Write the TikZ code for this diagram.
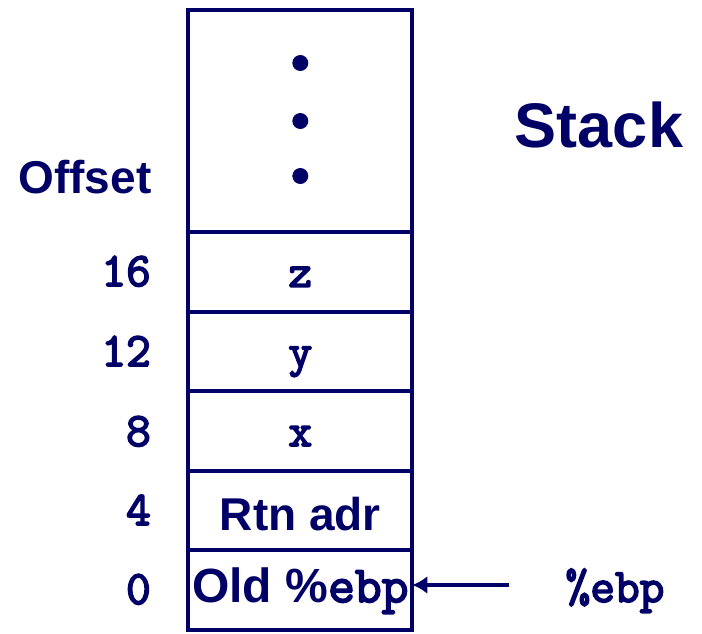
\documentclass[tikz,border=0pt]{standalone}
\usepackage{fontspec}
\setmainfont{Liberation Sans}
\setmonofont{Latin Modern Mono}[AutoFakeBold=3.5]
\usetikzlibrary{positioning,arrows.meta}

\definecolor{stackblue}{RGB}{0,0,102}

\tikzset{
  cell/.style={draw=stackblue, line width=4pt, minimum width=224pt,
    minimum height=79.6pt, inner sep=0pt, outer sep=0pt, text=stackblue,
    text height=30pt, text depth=0pt,
    font=\fontsize{46pt}{46pt}\selectfont\bfseries},
  offset/.style={anchor=base east, text=stackblue, inner sep=0pt,
    font=\fontsize{48pt}{48pt}\selectfont\ttfamily\bfseries},
  title/.style={anchor=base, text=stackblue, inner sep=0pt, font=\bfseries},
  pointer/.style={stackblue, line width=3.5pt, -{Latex[length=15pt,width=18pt]}}
}

\begin{document}
\begin{tikzpicture}[x=1pt,y=-1pt]
  \useasboundingbox (0,0) rectangle (702,633);

  % the stack column
  \node[cell, minimum height=222pt] (top) at (300.3,121) {};
  \node[cell, below=0pt of top] (zcell) {\ttfamily z};
  \node[cell, below=0pt of zcell] (ycell) {\ttfamily y};
  \node[cell, below=0pt of ycell] (xcell) {\ttfamily x};
  \node[cell, below=0pt of xcell, text height=40pt] (rtn) {Rtn adr};
  \node[cell, below=0pt of rtn, text height=24pt, font=\fontsize{48pt}{48pt}\selectfont\bfseries] (old)
    {Old \%{\fontsize{52pt}{52pt}\selectfont\ttfamily ebp}};

  \foreach \y in {63,121,176}{
    \fill[stackblue] (300.3,\y) circle [radius=8];
  }

  % offsets
  \node[title, font=\fontsize{46pt}{46pt}\selectfont\bfseries] (offsettitle) at (85,193) {Offset};
  \node[offset] (o16) at (151,286) {16};
  \node[offset] (o12) at (151,366) {12};
  \node[offset] (o8) at (151,446) {8};
  \node[offset] (o4) at (151,525) {4};
  \node[offset] (o0) at (151,604) {0};

  \node[title, font=\fontsize{63pt}{63pt}\selectfont\bfseries] (stack) at (599,147) {Stack};

  % frame pointer
  \node[offset, anchor=base] (ebp) at (615,602) {\%ebp};
  \coordinate (ptr) at (509,585);
  \draw[pointer] (ptr) -- (old.east |- ptr);

\end{tikzpicture}
\end{document}
